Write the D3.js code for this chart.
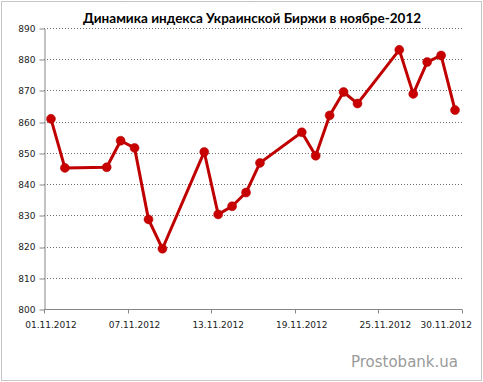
<!DOCTYPE html>
<html>
<head>
<meta charset="utf-8">
<script src="https://cdn.jsdelivr.net/npm/d3@7"></script>
<style>
  body { margin: 0; background: #fff; }
  svg { display: block; font-family: "DejaVu Sans", sans-serif; }
</style>
</head>
<body>
<svg width="483" height="382"></svg>
<script>
// index of the Ukrainian exchange, november 2012 (trading days only)
var days = [1, 2, 5, 6, 7, 8, 9, 12, 13, 14, 15, 16, 19, 20, 21, 22, 23, 26, 27, 28, 29, 30];
var values = [860.9, 845.2, 845.4, 853.9, 851.6, 828.7, 819.3, 850.3, 830.3, 832.9, 837.3, 846.8,
              856.6, 849.1, 862.0, 869.5, 865.8, 883.0, 868.9, 879.1, 881.2, 863.7];
var tickDays = [1, 7, 13, 19, 25, 30];
var yTicks = [800, 810, 820, 830, 840, 850, 860, 870, 880, 890];
var title = "Динамика индекса Украинской Биржи в ноябре-2012";

var svg = d3.select("svg"),
    W = +svg.attr("width"), H = +svg.attr("height"),
    margin = { top: 28, right: 21, bottom: 73, left: 44 };

var allDays = d3.range(1, 31);
var x = d3.scaleBand()
    .domain(allDays)
    .range([margin.left, W - margin.right])
    .paddingInner(0).paddingOuter(0);

var y = d3.scaleLinear()
    .domain([800, 890])
    .range([H - margin.bottom, margin.top]);

function lbl(d) { return (d < 10 ? "0" + d : d) + ".11.2012"; }

// outer frame
svg.append("rect")
    .attr("x", 1.5).attr("y", 1.5)
    .attr("width", W - 3).attr("height", H - 3)
    .attr("fill", "#fff")
    .attr("stroke", "#8c8c8c")
    .attr("stroke-dasharray", "1,1");

// gridlines
svg.append("g")
  .selectAll("line")
    .data(yTicks.filter(d => d > 800))
    .enter().append("line")
    .attr("x1", x.range()[0]).attr("x2", x.range()[1])
    .attr("y1", d => Math.round(y(d)) + 0.5)
    .attr("y2", d => Math.round(y(d)) + 0.5)
    .attr("stroke", "#6e6e6e")
    .attr("stroke-dasharray", "1,2");

// y axis
var yAxis = svg.append("g")
    .attr("transform", "translate(" + (x.range()[0] + 0.5) + ",0.5)")
    .call(d3.axisLeft(y).tickValues(yTicks).tickSize(5).tickSizeOuter(0).tickPadding(4));
yAxis.select(".domain").attr("stroke", "#868686");
yAxis.selectAll(".tick line").attr("stroke", "#868686")
    .attr("transform", (d) => "translate(0," + (Math.round(y(d)) - y(d)) + ")");
yAxis.selectAll(".tick text")
    .attr("fill", "#222").style("font-size", "9px")
    .attr("font-family", "DejaVu Sans, sans-serif");

// x axis
var y0 = Math.round(y(800)) + 0.5;
var xg = svg.append("g");
xg.append("line")
    .attr("x1", x.range()[0]).attr("x2", x.range()[1])
    .attr("y1", y0).attr("y2", y0)
    .attr("stroke", "#868686");
var boundaries = tickDays.slice(0, 5).map(d => x(d)).concat([x.range()[1]]);
xg.selectAll(".xt")
    .data(boundaries)
    .enter().append("line")
    .attr("x1", d => Math.round(d) + 0.5).attr("x2", d => Math.round(d) + 0.5)
    .attr("y1", y0).attr("y2", y0 + 4)
    .attr("stroke", "#868686");
xg.selectAll(".xl")
    .data(tickDays)
    .enter().append("text")
    .attr("x", d => x(d) + x.bandwidth() / 2)
    .attr("y", y0 + 18)
    .attr("text-anchor", "middle")
    .attr("fill", "#222")
    .style("font-size", "9px")
    .text(lbl)
    .each(function () {
        // keep the last label inside the frame
        var w = this.getComputedTextLength();
        var cx = +d3.select(this).attr("x");
        if (cx + w / 2 > W - 11) d3.select(this).attr("x", W - 11 - w / 2);
    });

// line + markers
var pts = days.map((d, i) => [x(d) + x.bandwidth() / 2, y(values[i])]);
svg.append("path")
    .datum(pts)
    .attr("fill", "none")
    .attr("stroke", "#c00000")
    .attr("stroke-width", 3)
    .attr("stroke-linejoin", "round")
    .attr("d", d3.line());

svg.selectAll(".dot")
    .data(pts)
    .enter().append("circle")
    .attr("cx", d => d[0]).attr("cy", d => d[1])
    .attr("r", 4.5)
    .attr("fill", "#c80000")
    .attr("stroke", "#b00000")
    .attr("stroke-width", 0.5);

// title
svg.append("text")
    .attr("x", 252).attr("y", 23)
    .attr("text-anchor", "middle")
    .attr("font-family", "Lato, sans-serif")
    .attr("font-weight", "bold")
    .style("font-size", "13.5px")
    .attr("fill", "#000")
    .text(title);

// watermark
svg.append("text")
    .attr("x", W - 25).attr("y", 367)
    .attr("text-anchor", "end")
    .attr("font-family", "DejaVu Sans, sans-serif")
    .style("font-size", "15px")
    .attr("fill", "#9a9a9a")
    .text("Prostobank.ua");
</script>
</body>
</html>
